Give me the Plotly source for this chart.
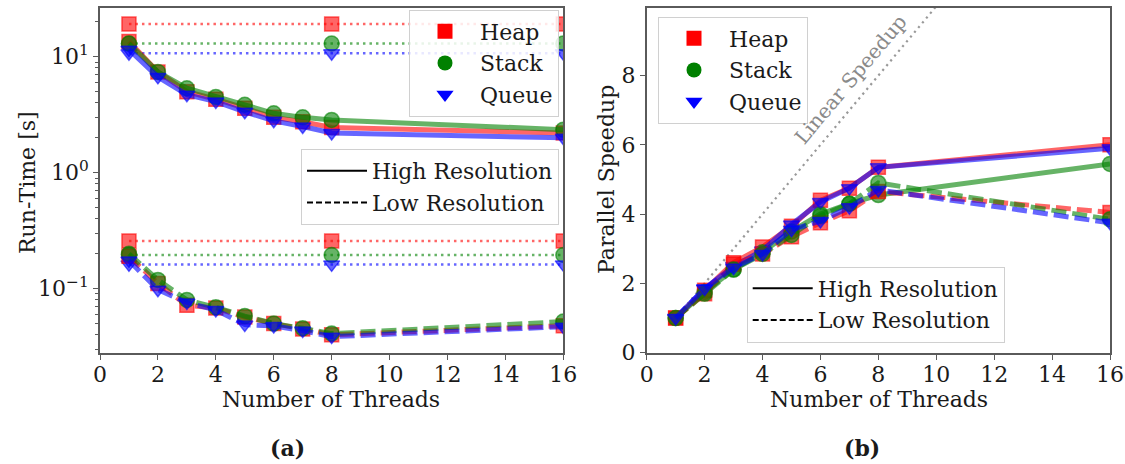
import plotly.graph_objects as go

# ---------------- data ----------------
threads = [1, 2, 3, 4, 5, 6, 7, 8, 16]
ref_threads = [1, 8, 16]

# (a) run-time [s]
heap_high_rt = [13.5, 7.4, 5.0, 4.3, 3.6, 3.0, 2.75, 2.45, 2.2]
stack_high_rt = [13.0, 7.4, 5.35, 4.5, 3.85, 3.25, 3.0, 2.85, 2.35]
queue_high_rt = [11.5, 6.7, 4.7, 4.1, 3.35, 2.8, 2.5, 2.2, 2.0]
heap_low_rt = [0.19, 0.111, 0.072, 0.068, 0.057, 0.050, 0.045, 0.040, 0.048]
stack_low_rt = [0.20, 0.119, 0.080, 0.069, 0.058, 0.050, 0.0455, 0.041, 0.052]
queue_low_rt = [0.175, 0.098, 0.076, 0.0655, 0.049, 0.0477, 0.0435, 0.0386, 0.047]

heap_high_ref = [19.1, 19.1, 19.1]
stack_high_ref = [13.0, 13.0, 13.0]
queue_high_ref = [10.7, 10.7, 10.7]
heap_low_ref = [0.258, 0.258, 0.258]
stack_low_ref = [0.195, 0.195, 0.195]
queue_low_ref = [0.162, 0.162, 0.162]

# (b) parallel speedup
heap_high_sp = [1.0, 1.8, 2.6, 3.05, 3.65, 4.4, 4.75, 5.35, 6.0]
stack_high_sp = [1.0, 1.75, 2.4, 2.9, 3.5, 4.0, 4.3, 4.55, 5.45]
queue_high_sp = [1.0, 1.85, 2.5, 2.95, 3.7, 4.35, 4.75, 5.35, 5.9]
heap_low_sp = [1.0, 1.7, 2.55, 2.85, 3.35, 3.75, 4.1, 4.65, 4.05]
stack_low_sp = [1.0, 1.7, 2.4, 2.85, 3.4, 3.95, 4.3, 4.9, 3.85]
queue_low_sp = [1.0, 1.85, 2.45, 2.85, 3.55, 3.8, 4.2, 4.7, 3.75]

linear_x = [1, 16]
linear_y = [1, 16]

names = ["Heap", "Stack", "Queue"]
line_names = ["High Resolution", "Low Resolution"]
x_ticks = [0, 2, 4, 6, 8, 10, 12, 14, 16]
rt_ticks = [0.1, 1, 10]
rt_ticktext = ["10<sup>\u22121</sup>", "10<sup>0</sup>", "10<sup>1</sup>"]
rt_minor = [0.03, 0.04, 0.05, 0.06, 0.07, 0.08, 0.09,
            0.2, 0.3, 0.4, 0.5, 0.6, 0.7, 0.8, 0.9,
            2, 3, 4, 5, 6, 7, 8, 9, 20]
sp_ticks = [0, 2, 4, 6, 8]

# ---------------- style ----------------
W, H = 1125, 464
FONT = "DejaVu Serif"
FS = 22
TXT = "#1a1a1a"
AXC = "#5a5a5a"
cols = ["rgba(255,0,0,0.6)", "rgba(0,128,0,0.6)", "rgba(0,0,255,0.6)"]
solid_cols = ["#ff0000", "#008000", "#0000ff"]
symbols = ["square", "circle", "triangle-down"]
msize = [14, 15, 14]
LW = 5
DASH = "15px,6px"
DOT = "2.5px,4px"

fig = go.Figure()


def add(x, y, i, dash, xa, ya, lw=LW):
    fig.add_trace(go.Scatter(
        x=x, y=y, mode="lines+markers", xaxis=xa, yaxis=ya, showlegend=False,
        line=dict(color=cols[i], width=lw, dash=dash),
        marker=dict(symbol=symbols[i], size=msize[i], color=cols[i],
                    line=dict(color=cols[i], width=1.5)),
        hoverinfo="skip"))


# (a)
for i, ref in enumerate([heap_high_ref, stack_high_ref, queue_high_ref]):
    add(ref_threads, ref, i, DOT, "x", "y", lw=2.5)
for i, ref in enumerate([heap_low_ref, stack_low_ref, queue_low_ref]):
    add(ref_threads, ref, i, DOT, "x", "y", lw=2.5)
for i, d in enumerate([heap_high_rt, stack_high_rt, queue_high_rt]):
    add(threads, d, i, "solid", "x", "y")
for i, d in enumerate([heap_low_rt, stack_low_rt, queue_low_rt]):
    add(threads, d, i, DASH, "x", "y")

# (b)
fig.add_trace(go.Scatter(x=linear_x, y=linear_y, mode="lines", xaxis="x2", yaxis="y2",
                         showlegend=False, hoverinfo="skip",
                         line=dict(color="rgba(128,128,128,0.8)", width=2.2, dash="2.2px,4px")))
for i, d in enumerate([heap_high_sp, stack_high_sp, queue_high_sp]):
    add(threads, d, i, "solid", "x2", "y2")
for i, d in enumerate([heap_low_sp, stack_low_sp, queue_low_sp]):
    add(threads, d, i, DASH, "x2", "y2")

# legend entries
for lg, xa, ya in [("legend", "x", "y"), ("legend3", "x2", "y2")]:
    for i, n in enumerate(names):
        fig.add_trace(go.Scatter(x=[None], y=[None], mode="markers", name=n,
                                 xaxis=xa, yaxis=ya, legend=lg, legendgroup=lg + n,
                                 marker=dict(symbol=symbols[i], size=15, color=solid_cols[i])))
for lg, xa, ya in [("legend2", "x", "y"), ("legend4", "x2", "y2")]:
    for n, dsh in zip(line_names, ["solid", "6px,3px"]):
        fig.add_trace(go.Scatter(x=[None], y=[None], mode="lines", name=n,
                                 xaxis=xa, yaxis=ya, legend=lg, legendgroup=lg + n,
                                 line=dict(color="black", width=2, dash=dsh)))


def px(x):
    return x / W


def py(y):
    return 1 - y / H


ydom = [py(352.7), py(8)]
axis_common = dict(showline=True, mirror=True, linecolor=AXC, linewidth=1.6,
                   ticks="outside", ticklen=5, tickwidth=1.4, tickcolor=AXC,
                   showgrid=False, zeroline=False, automargin=False,
                   tickfont=dict(family=FONT, size=FS, color=TXT))

leg_common = dict(bgcolor="rgba(255,255,255,0.85)", bordercolor="#d0d0d0", borderwidth=1,
                  font=dict(family=FONT, size=FS, color=TXT), tracegroupgap=5,
                  traceorder="normal", itemwidth=60)

fig.update_layout(
    width=W, height=H, margin=dict(l=0, r=0, t=0, b=0),
    paper_bgcolor="white", plot_bgcolor="white",
    font=dict(family=FONT, size=FS, color=TXT),
    xaxis=dict(domain=[px(100), px(563.3)], range=[0, 16], tickvals=x_ticks, anchor="y",
               ticklabelstandoff=-4, **axis_common),
    yaxis=dict(domain=ydom, type="log", range=[-1.552, 1.42], tickvals=rt_ticks, ticktext=rt_ticktext,
               anchor="x", minor=dict(tickvals=rt_minor, ticks="outside", ticklen=3, tickcolor=AXC),
               **axis_common),
    xaxis2=dict(domain=[px(646.7), px(1110)], range=[0, 16], tickvals=x_ticks, anchor="y2",
                ticklabelstandoff=-4, **axis_common),
    yaxis2=dict(domain=ydom, range=[0, 9.95], tickvals=sp_ticks, anchor="x2", **axis_common),
    legend=dict(x=px(559), xanchor="right", y=py(9.5), yanchor="top", **leg_common),
    legend2=dict(x=px(559), xanchor="right", y=py(149), yanchor="top", **leg_common),
    legend3=dict(x=px(658), xanchor="left", y=py(16.5), yanchor="top", **leg_common),
    legend4=dict(x=px(746.7), xanchor="left", y=py(266.5), yanchor="top", **leg_common),
    showlegend=True,
)

ann = [
    dict(text="Run-Time [s]", x=px(27), y=py(183), textangle=-90),
    dict(text="Number of Threads", x=px(331), y=py(399)),
    dict(text="Parallel Speedup", x=px(606), y=py(180), textangle=-90),
    dict(text="Number of Threads", x=px(879), y=py(399)),
    dict(text="<b>(a)</b>", x=px(287), y=py(448)),
    dict(text="<b>(b)</b>", x=px(862), y=py(448)),
]
for a in ann:
    fig.add_annotation(xref="paper", yref="paper", showarrow=False,
                       xanchor="center", yanchor="middle",
                       font=dict(family=FONT, size=FS, color=TXT), **a)

fig.add_annotation(text="Linear Speedup", x=7.05, y=7.9, xref="x2", yref="y2", showarrow=False,
                   textangle=-50, font=dict(family=FONT, size=20, color="#8a8a8a"))

fig.write_html("out.html")
